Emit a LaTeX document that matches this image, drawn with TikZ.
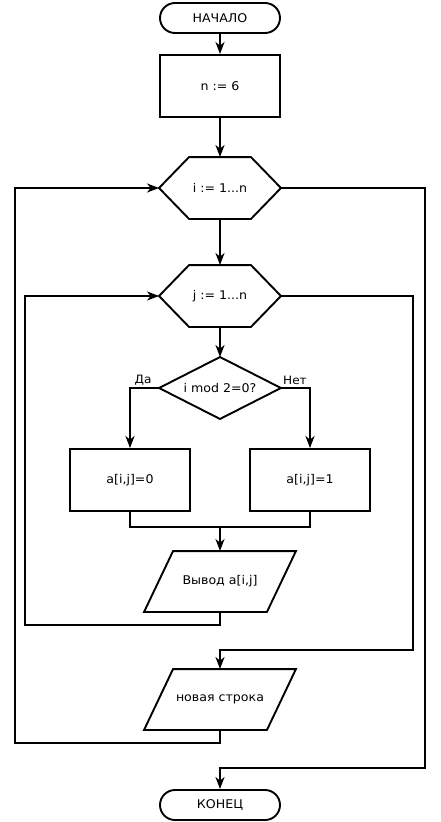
\documentclass[tikz,border=0pt]{standalone}
\usepackage{fontspec}
\setmainfont{DejaVu Sans}[FakeStretch=1.05]
\usetikzlibrary{arrows.meta}
\begin{document}
\begin{tikzpicture}[x=1pt,y=-1pt,
  line width=1.9pt,
  every node/.style={font=\fontsize{12}{14}\selectfont, inner sep=0pt},
  arr/.style={-{Stealth[length=12pt,width=9pt,inset=3.5pt]}},
  term/.style={draw, rounded corners=15pt, minimum width=120pt, minimum height=30pt},
  proc/.style={draw, minimum width=120pt, minimum height=62pt},
  hexbox/.style={minimum width=120pt, minimum height=60pt},
  parbox/.style={minimum width=150pt, minimum height=59pt},
  lbl/.style={font=\fontsize{11.5}{13}\selectfont}
]
\useasboundingbox (0,0) rectangle (440,822);

\node[term] (start) at (220,18) {НАЧАЛО};
\node[proc] (n6) at (220,86) {n := 6};
\node[hexbox] (i) at (220,188) {i := 1...n};
\node[hexbox] (j) at (220,296) {j := 1...n};
\node[hexbox] (d) at (220,388) {i mod 2=0?};
\node[proc] (a0) at (130,480) {a[i,j]=0};
\node[proc] (a1) at (310,480) {a[i,j]=1};
\node[parbox] (out) at (220,581.5) {Вывод a[i,j]};
\node[parbox] (nl) at (220,699.5) {новая строка};
\node[term] (end) at (220,805) {КОНЕЦ};

% outlines
\foreach \h in {i,j}{
  \draw (\h.west) -- ([xshift=30pt]\h.north west) -- ([xshift=-30pt]\h.north east)
        -- (\h.east) -- ([xshift=-30pt]\h.south east) -- ([xshift=30pt]\h.south west) -- cycle;
}
\draw (d.west) -- (d.north) -- (d.east) -- (d.south) -- cycle;
\foreach \p in {out,nl}{
  \draw ([xshift=29pt]\p.north west) -- (\p.north east) -- ([xshift=-29pt]\p.south east) -- (\p.south west) -- cycle;
}

% labels
\node[lbl, anchor=south] (yes) at (143,386) {Да};
\node[lbl, anchor=south] (no) at (295,386) {Нет};

% coordinates
\coordinate (m) at (220,527);
\coordinate (c1) at (25,625);
\coordinate (c2) at (413,650);
\coordinate (c3) at (15,743);
\coordinate (c4) at (425,768);

% connectors
\draw[arr] (start.south) -- (n6.north);
\draw[arr] (n6.south) -- (i.north);
\draw[arr] (i.south) -- (j.north);
\draw[arr] (j.south) -- (d.north);
\draw[arr] (d.west) -| (a0.north);
\draw[arr] (d.east) -| (a1.north);
\draw (a0.south) |- (m) -| (a1.south);
\draw[arr] (m) -- (out.north);
\draw[arr] (out.south) |- (c1) |- (j.west);
\draw[arr] (j.east) -| (c2) -| (nl.north);
\draw[arr] (nl.south) |- (c3) |- (i.west);
\draw[arr] (i.east) -| (c4) -| (end.north);
\end{tikzpicture}
\end{document}
